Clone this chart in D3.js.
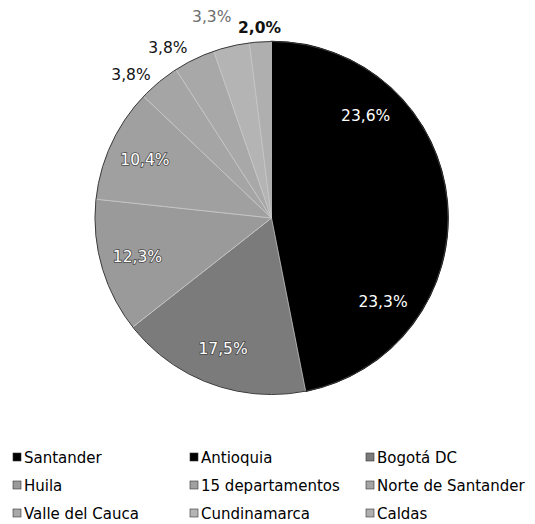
<!DOCTYPE html>
<html>
<head>
<meta charset="utf-8">
<script src="https://cdn.jsdelivr.net/npm/d3@7"></script>
<style>
  body { margin: 0; background: #fff; }
  text { font-family: "DejaVu Sans", Verdana, sans-serif; }
</style>
</head>
<body>
<svg id="chart" width="535" height="524"></svg>
<script>
//data
const departments = ["Santander", "Antioquia", "Bogotá DC", "Huila", "15 departamentos",
    "Norte de Santander", "Valle del Cauca", "Cundinamarca", "Caldas"];
const shares = [23.6, 23.3, 17.5, 12.3, 10.4, 3.8, 3.8, 3.3, 2.0];

//grey shades standing in for the scanned print patterns
const fills = ["#000000", "#000000", "#7b7b7b", "#9a9a9a", "#a0a0a0", "#a5a5a5", "#a8a8a8", "#b4b4b4", "#afafaf"];

const svg = d3.select("#chart");
const cx = 271.5, cy = 218, r = 176.5;

const pieData = departments.map((d, i) => ({ name: d, value: shares[i], fill: fills[i] }));
const pie = d3.pie().sort(null).value(d => d.value);
const arcs = pie(pieData);
const arc = d3.arc().innerRadius(0).outerRadius(r);

const g = svg.append("g").attr("transform", `translate(${cx},${cy})`);

//black slices first so the light edges of the grey ones sit on top
g.selectAll("path")
    .data(arcs.slice().sort((a, b) => (a.data.fill === "#000000" ? 0 : 1) - (b.data.fill === "#000000" ? 0 : 1)))
    .join("path")
    .attr("d", arc)
    .attr("fill", d => d.data.fill)
    .attr("stroke", d => d.data.fill === "#000000" ? "#000" : "#c6c6c6")
    .attr("stroke-width", d => d.data.fill === "#000000" ? 1.5 : 0.8);

//thin outline round the pie
g.append("circle").attr("r", r).attr("fill", "none").attr("stroke", "#3a3a3a").attr("stroke-width", 1);

//label placement: inside ones sit at 79% of the radius, small slices go outside
const outside = {
    "Norte de Santander": { k: 1.14, shift: -4.7 },
    "Valle del Cauca": { k: 1.13, shift: -5.4 },
    "Cundinamarca": { k: 1.19, shift: -3.4 },
    "Caldas": { k: 1.08, shift: 0 }
};
const fmt = v => d3.format(".1f")(v).replace(".", ",") + "%";

function labelPos(d) {
    const o = outside[d.data.name];
    const k = o ? o.k : 0.79;
    const a = (d.startAngle + d.endAngle) / 2 + (o ? o.shift * Math.PI / 180 : 0);
    return [Math.sin(a) * r * k, -Math.cos(a) * r * k];
}

g.selectAll("text.pct")
    .data(arcs)
    .join("text")
    .attr("class", "pct")
    .attr("x", d => labelPos(d)[0])
    .attr("y", d => labelPos(d)[1])
    .attr("dy", "0.36em")
    .attr("text-anchor", "middle")
    .attr("font-size", 15.5)
    .attr("font-weight", d => d.data.name === "Caldas" ? "bold" : "normal")
    .attr("fill", d => {
        if (outside[d.data.name]) return d.data.name === "Cundinamarca" ? "#6e6e6e" : "#111";
        return "#fff";
    })
    .attr("stroke", d => (!outside[d.data.name] && d.data.fill !== "#000000") ? "#4a4a4a" : "none")
    .attr("stroke-width", 1.6)
    .attr("paint-order", "stroke")
    .text(d => fmt(d.data.value));

//legend, three columns
const colX = [13, 190, 366];
const rowY = [463, 491, 519];
const legend = svg.append("g");
const items = legend.selectAll("g")
    .data(pieData)
    .join("g")
    .attr("transform", (d, i) => `translate(${colX[i % 3]},${rowY[Math.floor(i / 3)]})`);

items.append("rect")
    .attr("x", 0)
    .attr("y", -10)
    .attr("width", 8)
    .attr("height", 8)
    .attr("fill", d => d.fill)
    .attr("stroke", "#333")
    .attr("stroke-width", 0.6);

items.append("text")
    .attr("x", 11)
    .attr("y", 0)
    .attr("font-size", 15)
    .attr("fill", "#000")
    .text(d => d.name);
</script>
</body>
</html>
